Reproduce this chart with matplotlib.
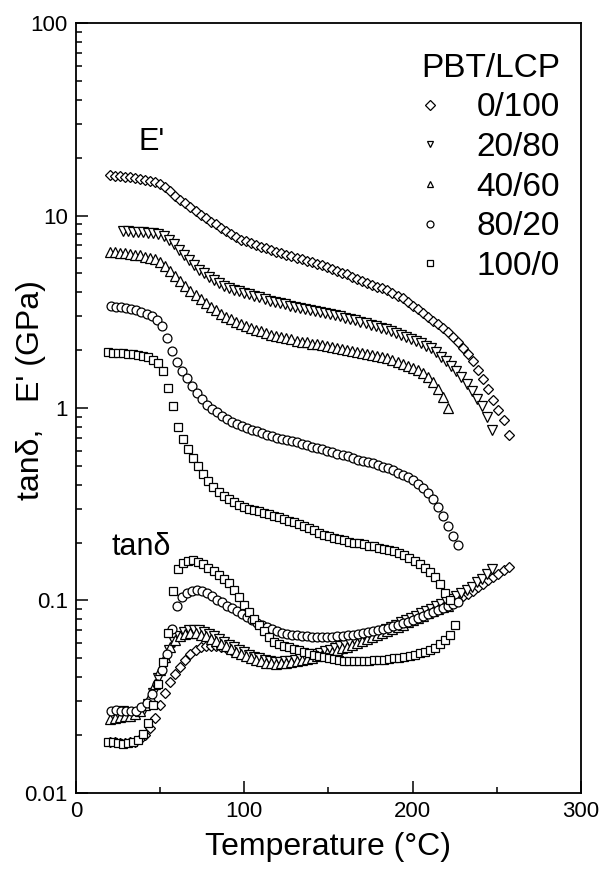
import numpy as np
import matplotlib

matplotlib.use("Agg")
import matplotlib.pyplot as plt
from matplotlib.ticker import FixedLocator, FuncFormatter, LogLocator, NullFormatter

plt.rcParams["font.family"] = ["Liberation Sans", "DejaVu Sans"]

# blends, PBT/LCP
blends = ["0/100", "20/80", "40/60", "80/20", "100/0"]
markers = ["D", "v", "^", "o", "s"]
msizes = [5.4, 6.6, 6.6, 6.4, 5.6]

# temperature span (first, last) of each run, degC
t_range = [(20, 257), (28, 247), (20, 221), (21, 227), (19, 222)]
t_range_tan = [(20, 257), (28, 247), (20, 221), (21, 227), (19, 225)]

# storage modulus E' (GPa), every ~3 degC
e_0_100 = [16.2, 16.1, 16.0, 15.9, 15.8, 15.6, 15.4, 15.3, 15.1, 15.0, 14.6, 14.0,
           13.4, 12.7, 12.1, 11.6, 11.05, 10.5, 10.05, 9.7, 9.3, 9.0, 8.6, 8.3,
           8.0, 7.75, 7.5, 7.35, 7.2, 7.05, 6.9, 6.75, 6.62, 6.5, 6.37, 6.25,
           6.15, 6.05, 5.94, 5.83, 5.73, 5.62, 5.5, 5.39, 5.28, 5.16, 5.05, 4.94,
           4.82, 4.7, 4.58, 4.47, 4.37, 4.27, 4.18, 4.09, 3.97, 3.84, 3.71, 3.56,
           3.4, 3.25, 3.11, 2.98, 2.84, 2.72, 2.6, 2.47, 2.34, 2.2, 2.05, 1.9,
           1.75, 1.58, 1.42, 1.25, 1.1, 0.98, 0.87, 0.72]
e_20_80 = [8.3, 8.28, 8.25, 8.2, 8.17, 8.12, 8.08, 8.0, 7.85, 7.5, 7.1, 6.65,
           6.25, 5.85, 5.5, 5.22, 5.0, 4.8, 4.6, 4.45, 4.3, 4.18, 4.1, 4.03,
           3.96, 3.9, 3.83, 3.76, 3.68, 3.6, 3.55, 3.5, 3.45, 3.4, 3.36, 3.32,
           3.28, 3.24, 3.2, 3.16, 3.12, 3.08, 3.04, 3.0, 2.95, 2.91, 2.86, 2.81,
           2.76, 2.71, 2.66, 2.61, 2.56, 2.51, 2.45, 2.4, 2.34, 2.28, 2.23, 2.17,
           2.11, 2.04, 1.95, 1.85, 1.76, 1.66, 1.56, 1.45, 1.33, 1.23, 1.12, 1.02,
           0.9, 0.77]
e_40_60 = [6.47, 6.44, 6.4, 6.36, 6.3, 6.25, 6.2, 6.12, 6.05, 5.97, 5.75, 5.46,
           5.15, 4.85, 4.55, 4.3, 4.05, 3.85, 3.67, 3.5, 3.35, 3.22, 3.09, 2.98,
           2.89, 2.8, 2.74, 2.67, 2.61, 2.55, 2.5, 2.44, 2.4, 2.37, 2.33, 2.3,
           2.27, 2.24, 2.21, 2.19, 2.16, 2.14, 2.12, 2.1, 2.08, 2.05, 2.03, 2.01,
           1.98, 1.96, 1.94, 1.91, 1.89, 1.86, 1.83, 1.81, 1.78, 1.74, 1.7, 1.66,
           1.62, 1.57, 1.52, 1.45, 1.37, 1.26, 1.14, 1.0]
e_80_20 = [3.38, 3.36, 3.33, 3.3, 3.26, 3.22, 3.16, 3.09, 3.0, 2.85, 2.67, 2.3,
           1.98, 1.74, 1.56, 1.43, 1.3, 1.19, 1.11, 1.04, 0.99, 0.95, 0.91, 0.877,
           0.85, 0.83, 0.81, 0.79, 0.772, 0.756, 0.743, 0.728, 0.714, 0.7, 0.693,
           0.683, 0.673, 0.662, 0.65, 0.64, 0.63, 0.621, 0.611, 0.6, 0.59, 0.58,
           0.57, 0.56, 0.55, 0.54, 0.532, 0.524, 0.515, 0.505, 0.496, 0.486,
           0.474, 0.462, 0.45, 0.438, 0.423, 0.405, 0.385, 0.36, 0.335, 0.305,
           0.275, 0.245, 0.215, 0.195]
e_100_0 = [1.96, 1.94, 1.93, 1.92, 1.91, 1.9, 1.89, 1.87, 1.83, 1.78, 1.72, 1.55,
           1.27, 1.03, 0.8, 0.69, 0.61, 0.55, 0.5, 0.455, 0.42, 0.39, 0.365, 0.35,
           0.337, 0.325, 0.315, 0.306, 0.3, 0.295, 0.29, 0.285, 0.28, 0.275, 0.27,
           0.265, 0.26, 0.255, 0.249, 0.243, 0.237, 0.231, 0.225, 0.22, 0.215,
           0.212, 0.208, 0.205, 0.202, 0.2, 0.198, 0.196, 0.193, 0.191, 0.188,
           0.185, 0.183, 0.18, 0.176, 0.172, 0.167, 0.161, 0.155, 0.148, 0.141,
           0.132, 0.122, 0.11, 0.1]

# loss factor tan(delta)
tan_0_100 = [0.0185, 0.0183, 0.0182, 0.0182, 0.0183, 0.0185, 0.019, 0.0201, 0.0217,
             0.0245, 0.0285, 0.033, 0.0375, 0.0415, 0.0452, 0.049, 0.0525, 0.0552,
             0.057, 0.0578, 0.0582, 0.0581, 0.0575, 0.0565, 0.0553, 0.054, 0.0528,
             0.0515, 0.0503, 0.0493, 0.0485, 0.0478, 0.0473, 0.0471, 0.0471, 0.0473,
             0.0478, 0.0484, 0.049, 0.0497, 0.0505, 0.0513, 0.0522, 0.0531, 0.054,
             0.055, 0.0561, 0.0573, 0.0586, 0.06, 0.0614, 0.0629, 0.0645, 0.0662,
             0.068, 0.0698, 0.0716, 0.0734, 0.0753, 0.0773, 0.0795, 0.0817, 0.084,
             0.0863, 0.0887, 0.0912, 0.0938, 0.0965, 0.0993, 0.102, 0.105, 0.108,
             0.112, 0.117, 0.122, 0.127, 0.132, 0.138, 0.144, 0.15]
tan_20_80 = [0.0265, 0.026, 0.0258, 0.026, 0.0268, 0.029, 0.033, 0.0395, 0.047, 0.055,
             0.061, 0.0655, 0.0685, 0.0702, 0.0706, 0.0701, 0.0688, 0.067, 0.065,
             0.063, 0.061, 0.059, 0.057, 0.0553, 0.0538, 0.0524, 0.0511, 0.05, 0.049,
             0.0483, 0.0479, 0.0479, 0.0482, 0.0487, 0.0493, 0.05, 0.0508, 0.0516,
             0.0525, 0.0535, 0.0545, 0.0555, 0.0566, 0.0577, 0.059, 0.0603, 0.0617,
             0.0631, 0.0646, 0.0661, 0.0677, 0.0694, 0.0712, 0.073, 0.0749, 0.0769,
             0.079, 0.0812, 0.0835, 0.0858, 0.0882, 0.0907, 0.0933, 0.096, 0.0989,
             0.102, 0.105, 0.109, 0.113, 0.118, 0.124, 0.13, 0.137, 0.145]
tan_40_60 = [0.0242, 0.0245, 0.0248, 0.025, 0.0252, 0.0256, 0.0265, 0.0285, 0.032,
             0.037, 0.0435, 0.051, 0.0575, 0.0622, 0.0652, 0.067, 0.0678, 0.0676,
             0.0665, 0.065, 0.0632, 0.0614, 0.0596, 0.0578, 0.056, 0.0543, 0.0527,
             0.0513, 0.05, 0.049, 0.0482, 0.0476, 0.0472, 0.047, 0.0471, 0.0474,
             0.0478, 0.0484, 0.049, 0.0497, 0.0505, 0.0514, 0.0523, 0.0532, 0.0542,
             0.0553, 0.0564, 0.0576, 0.0588, 0.0601, 0.0615, 0.0629, 0.0644, 0.066,
             0.0676, 0.0693, 0.0711, 0.073, 0.0749, 0.0769, 0.079, 0.0812, 0.0835,
             0.0858, 0.0881, 0.0903, 0.0922, 0.094]
tan_80_20 = [0.0268, 0.027, 0.0268, 0.0265, 0.0265, 0.0268, 0.0278, 0.0295, 0.0325,
             0.037, 0.0435, 0.053, 0.071, 0.094, 0.104, 0.109, 0.112, 0.113, 0.112,
             0.109, 0.105, 0.101, 0.098, 0.094, 0.091, 0.088, 0.085, 0.082, 0.079,
             0.0767, 0.0745, 0.0725, 0.0707, 0.0692, 0.068, 0.0671, 0.0664, 0.0658,
             0.0654, 0.0651, 0.0649, 0.0648, 0.0648, 0.0648, 0.0649, 0.0651, 0.0654,
             0.0658, 0.0663, 0.0669, 0.0676, 0.0684, 0.0693, 0.0702, 0.0712, 0.0723,
             0.0735, 0.0748, 0.0762, 0.0777, 0.0793, 0.081, 0.0828, 0.0847, 0.0867,
             0.0888, 0.091, 0.0933, 0.0957, 0.098]
tan_100_0 = [0.0185, 0.0183, 0.0181, 0.018, 0.0181, 0.0183, 0.0188, 0.0202, 0.0232,
             0.0285, 0.037, 0.048, 0.068, 0.112, 0.145, 0.156, 0.161, 0.162, 0.159,
             0.154, 0.148, 0.142, 0.136, 0.13, 0.123, 0.114, 0.104, 0.095, 0.087,
             0.0805, 0.0745, 0.069, 0.0645, 0.061, 0.0595, 0.0583, 0.0573, 0.0562,
             0.0551, 0.0541, 0.0531, 0.0522, 0.0514, 0.0507, 0.05, 0.0494, 0.049,
             0.0487, 0.0485, 0.0484, 0.0484, 0.0485, 0.0486, 0.0488, 0.049, 0.0493,
             0.0496, 0.05, 0.0505, 0.051, 0.0517, 0.0524, 0.0533, 0.0543, 0.0555,
             0.0568, 0.0595, 0.0625, 0.066, 0.075]

modulus = [e_0_100, e_20_80, e_40_60, e_80_20, e_100_0]
tandelta = [tan_0_100, tan_20_80, tan_40_60, tan_80_20, tan_100_0]


def label_fmt(value, _):
    return f"{value:g}"


fig = plt.figure(figsize=(6.05, 8.69), dpi=100)
ax = fig.add_axes([0.1256, 0.0875, 0.8347, 0.886])

style = dict(linestyle="none", markerfacecolor="white", markeredgecolor="black",
             markeredgewidth=0.9)

for name, mk, ms, (t0, t1), (u0, u1), e_vals, tan_vals in zip(
        blends, markers, msizes, t_range, t_range_tan, modulus, tandelta):
    temps = np.linspace(t0, t1, len(e_vals))
    ax.plot(temps, e_vals, marker=mk, markersize=ms, label=name, **style)
    temps_tan = np.linspace(u0, u1, len(tan_vals))
    ax.plot(temps_tan, tan_vals, marker=mk, markersize=ms, **style)

ax.set_yscale("log")
ax.set_ylim(0.01, 100)
ax.set_xlim(0, 300)

ax.xaxis.set_major_locator(FixedLocator([0, 100, 200, 300]))
ax.xaxis.set_minor_locator(FixedLocator([50, 150, 250]))
ax.yaxis.set_major_locator(LogLocator(base=10, numticks=10))
ax.yaxis.set_minor_locator(LogLocator(base=10, subs=np.arange(2, 10), numticks=10))
ax.yaxis.set_major_formatter(FuncFormatter(label_fmt))
ax.yaxis.set_minor_formatter(NullFormatter())

ax.tick_params(which="both", direction="in", top=False, right=False,
               labelsize=16, width=1.1, pad=6)
ax.tick_params(which="major", length=8.5)
ax.tick_params(which="minor", length=4.3)
for spine in ax.spines.values():
    spine.set_linewidth(1.3)

ax.set_xlabel("Temperature (\u00b0C)", fontsize=23, labelpad=7)
ax.set_ylabel("tan\u03b4,   E' (GPa)", fontsize=23, va="center")
ax.yaxis.set_label_coords(-0.09, 0.523)

ax.text(45, 24, "E'", fontsize=22, ha="center", va="center")
ax.text(39, 0.19, "tan\u03b4", fontsize=22, ha="center", va="center")

leg = ax.legend(title="PBT/LCP", frameon=False, fontsize=24, title_fontsize=24,
                loc="upper right", bbox_to_anchor=(1.005, 0.992), handlelength=1.0,
                handletextpad=0.9, labelspacing=0.26, borderpad=0.2,
                alignment="right")
for handle in leg.legend_handles:
    handle.set_markersize(5.0)

plt.savefig("out.png", dpi=100)
plt.close()
